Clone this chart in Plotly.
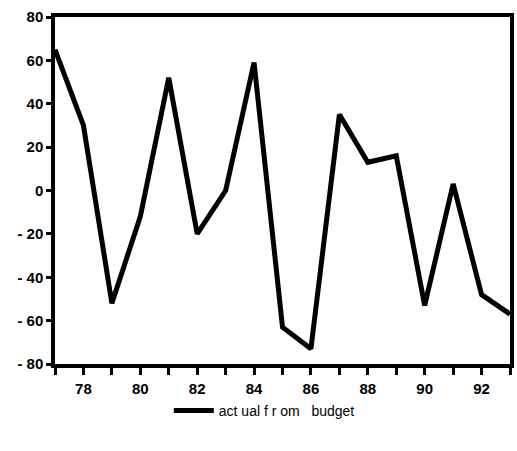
import plotly.graph_objects as go

years = list(range(77, 94))
values = [65, 30, -52, -12, 52, -20, 0, 59, -63, -73, 35, 13, 16, -53, 3, -48, -57]
series_name = "act ual f r om   budget"
y_ticks = [80, 60, 40, 20, 0, -20, -40, -60, -80]
y_labels = ["80", "60", "40", "20", "0", "- 20", "- 40", "- 60", "- 80"]
x_labels = [str(y) if y % 2 == 0 else "" for y in years]

fig = go.Figure()
fig.add_trace(go.Scatter(x=years, y=values, mode="lines", name=series_name,
                         line=dict(color="black", width=5)))

fig.update_layout(
    width=517, height=451,
    margin=dict(l=55, r=3, t=17, b=87),
    plot_bgcolor="white", paper_bgcolor="white",
    font=dict(family="Liberation Sans, Arial", size=15, color="black", weight="bold"),
    showlegend=True,
    legend=dict(orientation="h", x=0.46, xanchor="center", y=-0.135, yanchor="middle",
                bgcolor="rgba(0,0,0,0)",
                font=dict(size=14, weight="normal"), itemwidth=40),
)
fig.update_xaxes(range=[77, 93], tickvals=years, ticktext=x_labels,
                 ticks="outside", ticklen=7, tickwidth=3, tickcolor="black",
                 ticklabelstandoff=1,
                 showline=True, linewidth=3.5, linecolor="black", mirror=True,
                 showgrid=False, zeroline=False)
fig.update_yaxes(range=[-80, 80], tickvals=y_ticks, ticktext=y_labels,
                 ticks="outside", ticklen=5, tickwidth=3, tickcolor="black",
                 showline=True, linewidth=3.5, linecolor="black", mirror=True,
                 showgrid=False, zeroline=False)

fig.write_html("out.html", config={"displayModeBar": False},
               post_script="document.body.style.margin='0';document.body.style.overflow='hidden';")
